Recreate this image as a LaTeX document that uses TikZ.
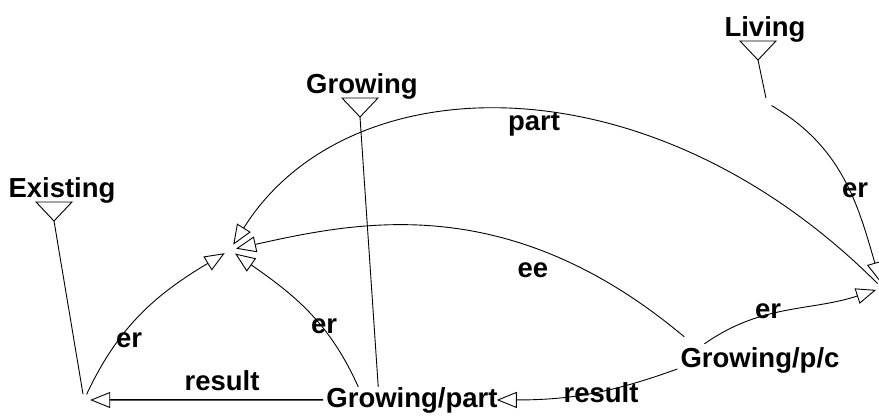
\documentclass[tikz,border=0pt]{standalone}
\usepackage{fontspec}
\setmainfont{Liberation Sans}
\usetikzlibrary{arrows.meta}
\begin{document}
\begin{tikzpicture}[x=1pt,y=1pt,
  lbl/.style={font=\fontsize{27.5}{30}\selectfont\bfseries, inner sep=3pt, anchor=base},
  ctr/.style={circle, inner sep=0pt, minimum size=12pt},
  conn/.style={line width=0.9pt},
  tip/.style={-{Triangle[open,length=20pt,width=16pt,line width=0.9pt]}},
  arr/.style={conn, tip},
  typetri/.style={line width=0.9pt, line join=miter},
]
\useasboundingbox (0,0) rectangle (879,416);
% concept labels
\node[lbl] (ex) at (62,219) {Existing};
\node[lbl] (gr) at (362,323) {Growing};
\node[lbl] (lv) at (765,379) {Living};
\node[lbl] (gp) at (412,9) {Growing/part};
\node[lbl] (gpc) at (760,49) {Growing/p/c};
% empty nodes
\node[ctr] (X) at (230,166) {};
\node[ctr] (B) at (84,16) {};
\node[ctr] (C) at (882,128) {};
\node[ctr, minimum size=10pt] (D) at (767,313) {};
% type triangles
\coordinate (exv) at (54,195);
\coordinate (grv) at (360,299);
\coordinate (lvv) at (758,356);
\draw[typetri] (exv) -- ++(-18,19) -- ++(36,0) -- cycle;
\draw[typetri] (grv) -- ++(-18,19) -- ++(36,0) -- cycle;
\draw[typetri] (lvv) -- ++(-18,19) -- ++(36,0) -- cycle;
\draw[conn] (exv) -- (B);
\draw[conn] (grv) -- ([xshift=55pt,yshift=-3pt]gp.north west);
\draw[conn] (lvv) -- (D);
% relations
\draw[arr] (C) .. controls +(135:330) and +(58:220) .. (X);
\draw[arr] ([xshift=7pt,yshift=7pt]gpc.north west) .. controls +(140:229) and +(12.5:132) .. (X);
\draw[arr] (B) to[out=65,in=211] (X);
\draw[arr] ([xshift=35pt,yshift=-3pt]gp.north west) to[out=114,in=325] (X);
\draw[line width=1.5pt, tip] (gp.west) -- (B);
\draw[arr] ([yshift=-9pt]gpc.west) to[out=200,in=0] ([xshift=-4pt]gp.east);
\draw[arr] ([xshift=27pt]gpc.north west) to[out=35,in=198] (C);
\draw[arr] (D) to[out=-30,in=106] (C);
% edge labels
\node[lbl] (lpart) at (534,286) {part};
\node[lbl] (lee) at (533,139) {ee};
\node[lbl] (ler1) at (129,69) {er};
\node[lbl] (ler2) at (324,83) {er};
\node[lbl] (ler3) at (768,98) {er};
\node[lbl] (ler4) at (855,219) {er};
\node[lbl] (lres1) at (222,26) {result};
\node[lbl] (lres2) at (601,14) {result};
\end{tikzpicture}
\end{document}
